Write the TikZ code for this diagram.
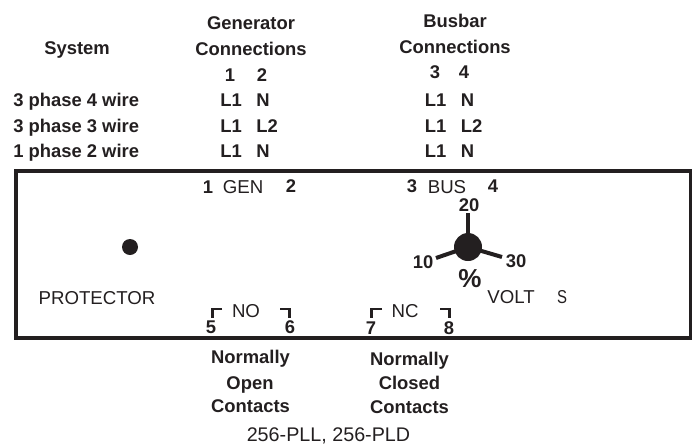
\documentclass[tikz,border=0pt]{standalone}
\usepackage{fontspec}
\setmainfont{Liberation Sans}
\definecolor{ink}{HTML}{231F20}
\tikzset{
 bt/.style={inner sep=0pt,anchor=base,text=ink,font=\fontsize{13.8}{16}\selectfont\bfseries},
 bc/.style={inner sep=0pt,text=ink,font=\fontsize{13.8}{16}\selectfont\bfseries},
 rg/.style={inner sep=0pt,text=ink,font=\fontsize{14}{16}\selectfont},
 brk/.style={line width=1.8pt,draw=ink},
 hub/.style={line width=3pt,draw=ink}
}
\begin{document}
\begin{tikzpicture}[x=0.75pt,y=-0.75pt]
\useasboundingbox (0,0) rectangle (692,444);
\node[bt] (sys) at (77,54) {System};
\node[bt] (g1) at (251,29) {Generator};
\node[bt] (g2) at (251,55) {Connections};
\node[bt] (b1) at (455,27) {Busbar};
\node[bt] (b2) at (455,53) {Connections};
\node[bt] (h1) at (230,81) {1};
\node[bt] (h2) at (262,81) {2};
\node[bt] (h3) at (435,78) {3};
\node[bt] (h4) at (464,78) {4};
\node[bt,anchor=base west] (r1) at (13,106.5) {3 phase 4 wire};
\node[bt,anchor=base west] (r2) at (13,132) {3 phase 3 wire};
\node[bt,anchor=base west] (r3) at (13,157.5) {1 phase 2 wire};
\node[bt] (a1) at (231,106.5) {L1};
\node[bt] (a2) at (263,106.5) {N};
\node[bt] (a3) at (231,132) {L1};
\node[bt] (a4) at (267,132) {L2};
\node[bt] (a5) at (231,157.5) {L1};
\node[bt] (a6) at (263,157.5) {N};
\node[bt] (c1) at (435.5,106.5) {L1};
\node[bt] (c2) at (467.5,106.5) {N};
\node[bt] (c3) at (435.5,132) {L1};
\node[bt] (c4) at (471.5,132) {L2};
\node[bt] (c5) at (435.5,157.5) {L1};
\node[bt] (c6) at (467.5,157.5) {N};
\draw[line width=2.8pt,draw=ink] (16,171) rectangle (690.5,338);
\node[bc] (t1) at (208,187) {1};
\node[rg] (gen) at (243,187) {GEN};
\node[bc] (t2) at (291,186) {2};
\node[bc] (t3) at (412,186) {3};
\node[rg] (bus) at (447,187) {BUS};
\node[bc] (t4) at (493,186) {4};
\fill[ink] (130,247) circle (8);
\node[rg] (prot) at (97,298) {PROTECTOR};
\node[rg] (no) at (246,311) {NO};
\node[rg] (nc) at (405,311) {NC};
\node[rg] (volt) at (511,297) {VOLT};
\node[rg,xscale=0.8] (s) at (562,297) {S};
\fill[ink] (468,247) circle (14);
\draw[hub] (468,247) -- (468,213);
\draw[hub] (468,247) -- (436,258);
\draw[hub] (468,247) -- (502,257);
\node[bc] (v20) at (469,205) {20};
\node[bc] (v10) at (423,262) {10};
\node[bc] (v30) at (516,261) {30};
\node[inner sep=0pt,text=ink,font=\fontsize{19.5}{22}\selectfont\bfseries] (pct) at (470,279) {\%};
\draw[brk] (222,309) -- (212.5,309) -- (212.5,318);
\draw[brk] (280,309) -- (289.5,309) -- (289.5,318);
\draw[brk] (382,309) -- (371.5,309) -- (371.5,318);
\draw[brk] (440,309) -- (449.5,309) -- (449.5,318);
\node[bc] (n5) at (211,327) {5};
\node[bc] (n6) at (290,327) {6};
\node[bc] (n7) at (371,328) {7};
\node[bc] (n8) at (449,328) {8};
\node[bt] (o1) at (250.5,363) {Normally};
\node[bt] (o2) at (250,389) {Open};
\node[bt] (o3) at (250.5,412) {Contacts};
\node[bt] (d1) at (409.5,365) {Normally};
\node[bt] (d2) at (409.5,389) {Closed};
\node[bt] (d3) at (409.5,413) {Contacts};
\node[rg,anchor=base,font=\fontsize{14.8}{16}\selectfont] (cap) at (328.5,441.5) {256-PLL, 256-PLD};
\end{tikzpicture}
\end{document}
